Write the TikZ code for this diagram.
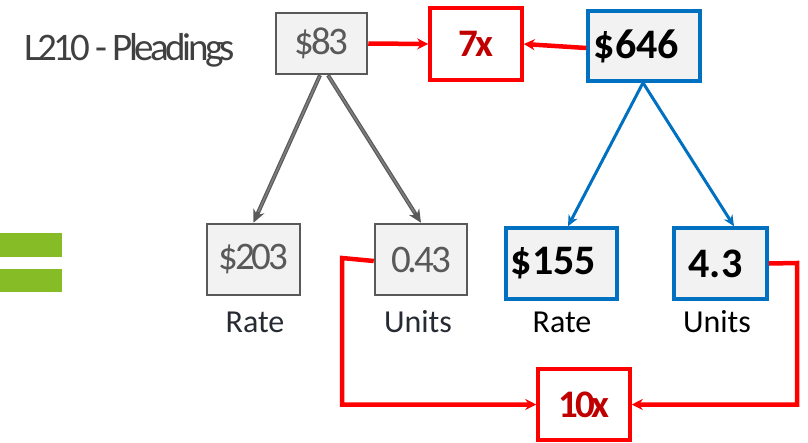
\documentclass[tikz,border=0pt]{standalone}
\usepackage{fontspec}
\setmainfont{Carlito}
\newfontfamily\tightfont{Carlito}[LetterSpace=-8]
\newfontfamily\titlefont{Carlito}[LetterSpace=-9]
\usetikzlibrary{arrows.meta}
\definecolor{boxgray}{HTML}{595959}
\definecolor{boxfill}{HTML}{F2F2F2}
\definecolor{myblue}{HTML}{0070C0}
\definecolor{myred}{HTML}{FF0000}
\definecolor{darkred}{HTML}{C00000}
\definecolor{mygreen}{HTML}{86BC25}
\definecolor{titlegray}{HTML}{404040}
\definecolor{labeldark}{HTML}{262B33}
\definecolor{arrowfill}{HTML}{7F7F7F}
\tikzset{
  graybox/.style={draw=boxgray, line width=2.5pt, fill=boxfill, inner sep=0pt, text=boxgray,
    font=\tightfont\fontsize{39}{40}\selectfont},
  bluebox/.style={draw=myblue, line width=3.5pt, fill=boxfill, inner sep=0pt, text=black,
    font=\bfseries\fontsize{42}{44}\selectfont},
  redbox/.style={draw=myred, line width=3.5pt, fill=white, inner sep=0pt, text=darkred,
    font=\tightfont\bfseries\fontsize{39}{40}\selectfont},
  lbl/.style={inner sep=0pt, font=\fontsize{32}{34}\selectfont, anchor=base},
  redline/.style={draw=myred, line width=4.5pt, line join=miter, -{Stealth[length=11pt,width=11pt]}},
  bluearrow/.style={draw=myblue, line width=3pt, -{Stealth[length=11pt,width=10pt]}},
  grayarrow/.style={draw=boxgray, line width=4pt, -{Stealth[length=13pt,width=12pt,fill=arrowfill]}},
  grayshaft/.style={draw=arrowfill, line width=1.6pt, shorten >=12pt, shorten <=1pt},
}
\begin{document}
\begin{tikzpicture}[x=1pt,y=-1pt]
\useasboundingbox (0,0) rectangle (808,442);
% green equals sign
\fill[mygreen] (0,233) rectangle (62,257);
\fill[mygreen] (0,269) rectangle (62,292);
% title
\node[inner sep=0pt, anchor=base, text=titlegray, font=\titlefont\fontsize{39}{40}\selectfont] (title) at (130,60) {L210 - Pleadings};
% top row
\node[graybox, minimum width=91pt, minimum height=61pt] (b83) at (321.5,43.5) {\$83};
\node[redbox, minimum width=92pt, minimum height=72pt] (b7x) at (476,44) {7x};
\node[bluebox, minimum width=112pt, minimum height=70pt] (b646) at (644,46) {\$646\kern15pt};
% second row
\node[graybox, minimum width=93pt, minimum height=71pt] (b203) at (253.5,259.5) {\$203};
\node[graybox, minimum width=92pt, minimum height=71pt] (b043) at (421,259.5) {0.43};
\node[bluebox, minimum width=111pt, minimum height=71pt] (b155) at (561.5,263.5) {\$155\kern16pt};
\node[bluebox, minimum width=93pt, minimum height=71pt] (b43) at (720.5,263.5) {4.3\kern10pt};
% labels
\node[lbl, text=labeldark] (l1) at (255,332) {Rate};
\node[lbl, text=labeldark] (l2) at (418,332) {Units};
\node[lbl, text=black] (l3) at (562,332) {Rate};
\node[lbl, text=black] (l4) at (717,332) {Units};
% bottom
\node[redbox, minimum width=92pt, minimum height=71pt] (b10x) at (584,404.5) {10x};
% gray arrows
\draw[grayarrow] ([xshift=-1.5pt]b83.south) -- (b203.north);
\draw[grayshaft] ([xshift=-1.5pt]b83.south) -- (b203.north);
\draw[grayarrow] ([xshift=6.5pt]b83.south) -- (b043.north);
\draw[grayshaft] ([xshift=6.5pt]b83.south) -- (b043.north);
% blue arrows
\draw[bluearrow] ([xshift=-1pt]b646.south) -- ([xshift=6.5pt]b155.north);
\draw[bluearrow] ([xshift=-1pt]b646.south) -- ([xshift=13.5pt]b43.north);
% red connectors
\draw[redline] (b83.east) -- (b7x.west);
\draw[redline] ([yshift=-2pt]b646.west) -- ([yshift=0pt]b7x.east);
\coordinate (c1) at (342,258);
\coordinate (c2) at (797,263);
\draw[redline] ([yshift=-1.5pt]b043.west) -- (c1) |- (b10x.west);
\draw[redline] (b43.east) -- (c2) |- (b10x.east);
\end{tikzpicture}
\end{document}
